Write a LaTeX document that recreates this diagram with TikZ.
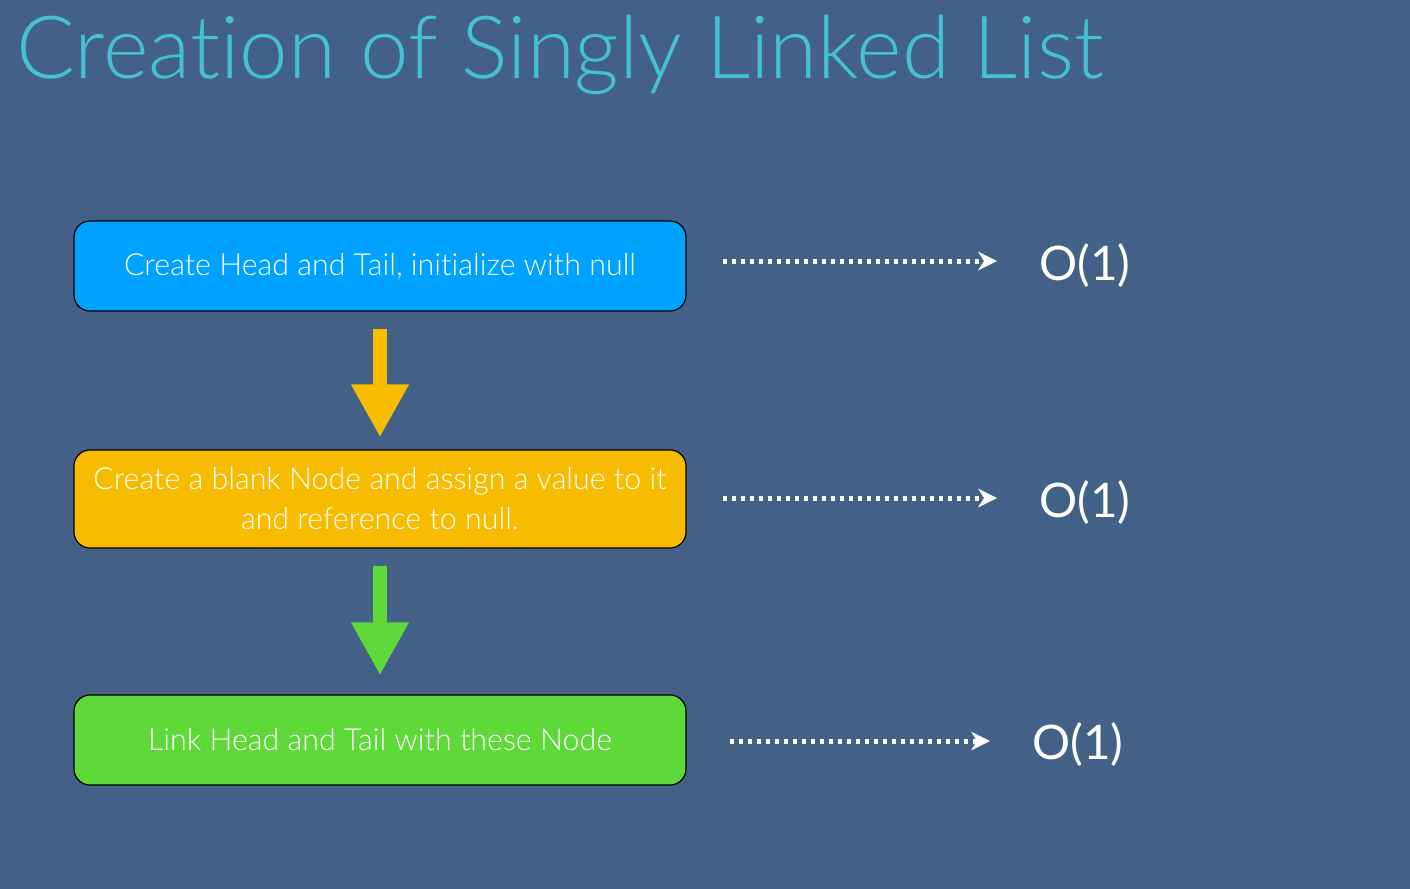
\documentclass[tikz,border=0pt]{standalone}
\usepackage{fontspec}
\setmainfont{Lato}
\newfontfamily\lightfont{Lato Light}[Ligatures=NoCommon]
\usetikzlibrary{arrows.meta}
\definecolor{bgblue}{HTML}{436087}
\definecolor{titlecyan}{HTML}{45C2D1}
\definecolor{stepblue}{HTML}{00A2FF}
\definecolor{steporange}{HTML}{F7BC00}
\definecolor{stepgreen}{HTML}{5FD93A}
\tikzset{
  stepbox/.style={draw=black, line width=0.6pt, rounded corners=8pt,
    minimum width=306pt, minimum height=45pt, text=white, align=center,
    font=\lightfont\fontsize{15.2}{20}\selectfont},
  cost/.style={text=white, inner sep=0pt, anchor=west,
    font=\fontsize{23.8}{26}\selectfont},
  blockarrow/.style={line width=7pt, -{Triangle[length=26.5pt,width=27pt]}},
  dotarrow/.style={white, line width=2.5pt, dash pattern=on 2.3pt off 2.2pt,
    -{Stealth[length=9.5pt,width=9.5pt,inset=3pt,line width=0pt]}}
}
\begin{document}
\begin{tikzpicture}[x=0.5pt,y=-0.5pt]
  \fill[bgblue] (0,0) rectangle (1410,889);
  \useasboundingbox (0,0) rectangle (1410,889);

  \node[anchor=base west, text=titlecyan, inner sep=0pt,
    font=\lightfont\fontsize{43.6}{48}\selectfont] (title) at (16,78)
    {Creation of Singly Linked List};

  \node[stepbox, fill=stepblue] (b1) at (380,266)
    {Create Head and Tail, initialize with null};
  \node[stepbox, fill=steporange, minimum height=49pt] (b2) at (380,499)
    {Create a blank Node and assign a value to it\\and reference to null.};
  \node[stepbox, fill=stepgreen] (b3) at (380,740)
    {Link Head and Tail with these Node};

  \draw[blockarrow, steporange] ([yshift=-8.5pt]b1.south) -- ([yshift=6pt]b2.north);
  \draw[blockarrow, stepgreen] ([yshift=-8.5pt]b2.south) -- ([yshift=9.5pt]b3.north);

  \node[cost] (c1) at (1039,266) {O(1)};
  \node[cost] (c2) at (1039,503) {O(1)};
  \node[cost] (c3) at (1032,745) {O(1)};

  \coordinate (s1) at ([xshift=18pt]b1.east |- 0,261);
  \coordinate (s2) at ([xshift=18pt]b2.east |- 0,498);
  \coordinate (s3) at ([xshift=21.5pt]b3.east |- 0,741);
  \draw[dotarrow] (s1) -- ([xshift=-21pt]s1 -| c1.west);
  \draw[dotarrow] (s2) -- ([xshift=-21pt]s2 -| c2.west);
  \draw[dotarrow] (s3) -- ([xshift=-21pt]s3 -| c3.west);
\end{tikzpicture}
\end{document}
